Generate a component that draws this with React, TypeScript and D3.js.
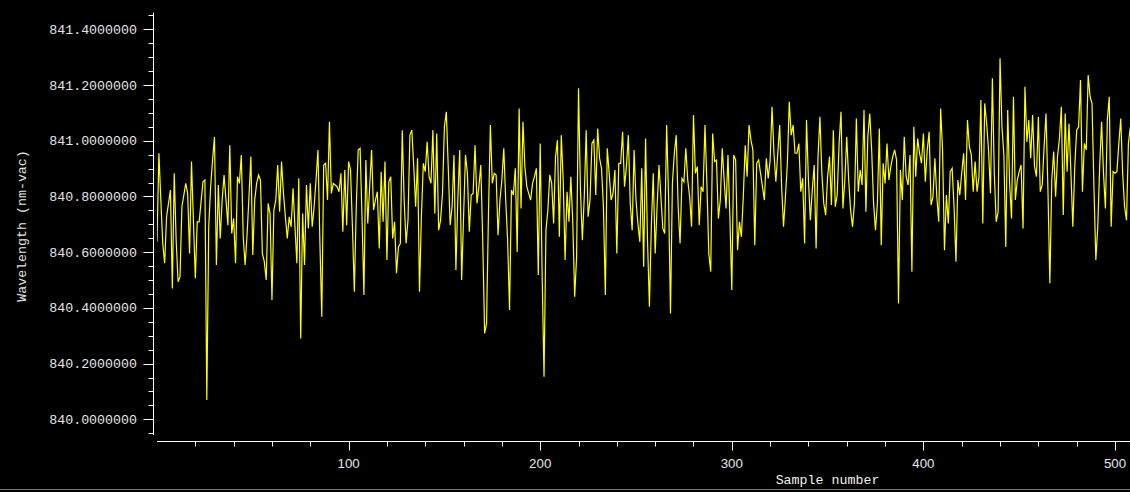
import React from "react";
import * as d3 from "d3";

const W = 1130;
const H = 492;

// Wavelength (nm-vac) per sample, samples numbered from 0
const seg1: number[] = [
  840.637, 840.955, 840.787, 840.631, 840.56, 840.727, 840.775, 840.823, 840.47, 840.883,
  840.643, 840.494, 840.512, 840.763, 840.805, 840.847, 840.811, 840.595, 840.925, 840.715,
  840.506, 840.709, 840.709, 840.781, 840.853, 840.859, 840.069, 840.691, 840.835, 840.931,
  841.014, 840.554, 840.841, 840.649, 840.787, 840.877, 840.787, 840.697, 840.984, 840.667,
  840.721, 840.56, 840.871, 840.847, 840.949, 840.655, 840.554, 840.661, 840.799, 840.943,
  840.59, 840.787, 840.847, 840.877, 840.859, 840.595, 840.566, 840.5, 840.775, 840.739,
  840.428, 840.751, 840.787, 840.913, 840.745, 840.925, 840.811, 840.727, 840.649, 840.727,
  840.691, 840.829, 840.691, 840.56, 840.865, 840.29, 840.739, 840.554, 840.841, 840.685,
  840.847, 840.691, 840.763, 840.859, 840.967, 840.643, 840.368, 840.913, 840.919, 840.787,
  841.068, 840.811, 840.847, 840.841, 840.835, 840.817, 840.883, 840.673, 840.895, 840.697,
  840.925, 840.895, 840.691, 840.458, 840.763, 840.967, 840.973, 840.727, 840.446, 840.931,
  840.703, 840.835, 840.967, 840.751, 840.787, 840.817, 840.613, 840.889, 840.709, 840.925,
  840.572, 840.853, 840.871, 840.649, 840.709, 840.524, 840.619,
];
const seg2: number[] = [
  840.631, 841.038, 840.787, 840.631, 840.715, 841.02, 841.038, 840.907, 840.763, 840.937,
  840.458, 840.727, 840.919, 840.889, 840.996, 840.871, 840.847, 841.038, 840.739, 841.026,
  840.679, 840.715, 840.811, 841.05, 841.104, 840.907, 840.697, 840.763, 840.949, 840.536,
  840.787, 840.967, 840.5, 840.727, 840.949, 840.883, 840.673, 840.805, 840.811, 840.984,
  840.775, 840.835, 840.913, 840.643, 840.308, 840.344, 840.739, 841.056, 840.847, 840.883,
  840.877, 840.661, 840.787, 840.859, 840.973, 840.787, 840.643, 840.392, 840.823, 840.805,
  840.901, 840.601, 841.116, 840.757, 841.068, 840.907, 840.835, 840.811, 840.787, 840.847,
  840.871, 840.901, 840.518, 840.99, 840.524, 840.153, 840.679, 840.751, 840.877, 840.847,
  840.703, 840.943, 841.002, 840.655, 841.02, 840.859, 840.572, 840.817, 840.709, 840.871,
  840.709, 840.44, 840.584, 841.188, 840.823, 840.643, 840.799, 841.038, 840.727, 840.787,
  840.99, 841.002, 840.805, 841.044, 840.937, 840.901, 840.763, 840.446, 840.973, 840.883,
  840.787, 840.811, 840.895, 840.595, 840.919, 840.919, 841.032, 840.835, 840.907, 841.02,
  840.775, 840.679, 840.967, 840.787, 840.703, 840.637, 840.901,
];
const seg3: number[] = [
  840.548, 841.008, 840.643, 840.404, 840.691, 840.883, 840.595, 840.763, 840.913, 840.799,
  840.685, 840.667, 841.056, 840.799, 840.38, 840.847, 840.955, 841.02, 840.763, 840.631,
  840.865, 840.853, 840.973, 840.859, 840.799, 840.691, 841.092, 840.883, 840.907, 840.697,
  840.835, 840.817, 841.056, 840.847, 840.595, 840.53, 841.026, 840.925, 840.931, 840.721,
  840.787, 840.973, 840.859, 840.757, 840.949, 840.727, 840.464, 840.949, 840.931, 840.607,
  840.709, 840.655, 840.799, 840.984, 840.871, 841.056, 841.002, 840.967, 840.625, 840.919,
  840.931, 840.883, 840.835, 840.787, 840.937, 840.865, 840.931, 841.122, 840.955, 840.853,
  840.955, 841.056, 840.835, 840.691, 840.799, 840.919, 841.14, 841.02, 841.056, 840.955,
  840.955, 840.99, 840.817, 840.865, 840.631, 841.074, 840.859, 840.715, 840.823, 840.913,
  840.613, 840.943, 841.086, 840.883, 840.775, 840.733, 840.871, 840.943, 840.769, 841.038,
  840.763, 840.805, 840.99, 841.104, 840.757, 840.859, 841.014, 840.859, 840.751, 840.691,
  840.775, 841.08, 840.817, 840.895, 840.841, 841.11, 840.745, 841.014, 841.098, 840.967,
  840.775, 840.679, 840.775, 841.044, 840.625, 840.919,
];
const seg4: number[] = [
  840.847, 840.99, 840.859, 840.907, 840.943, 840.967, 840.931, 840.416, 840.895, 840.787,
  841.014, 840.871, 840.841, 840.949, 840.53, 841.05, 840.871, 841.008, 840.955, 840.919,
  841.026, 840.853, 840.967, 841.032, 840.769, 840.799, 840.937, 840.799, 840.709, 841.116,
  840.967, 840.607, 840.805, 840.703, 840.889, 840.901, 840.763, 840.566, 840.859, 840.805,
  840.883, 840.955, 840.787, 841.074, 840.979, 840.949, 840.817, 840.925, 840.817, 840.871,
  841.146, 840.703, 841.134, 841.062, 840.967, 840.811, 841.224, 840.883, 840.709, 840.745,
  841.296, 841.05, 840.949, 840.619, 841.11, 840.847, 840.721, 841.158, 840.787, 840.859,
  840.889, 840.913, 840.685, 841.194, 840.996, 841.074, 840.937, 841.092, 840.907, 840.871,
  841.086, 840.817, 840.841, 840.979, 841.098, 840.823, 840.488, 840.859, 840.961, 840.799,
  840.943, 841.008, 841.122, 840.733, 841.098, 840.889, 841.062, 840.883, 840.691, 840.907,
  841.038, 841.05, 841.218, 840.817, 840.99, 840.967, 841.236, 841.158, 841.134, 840.835,
  840.572, 840.691, 840.907, 841.068, 840.883, 840.757, 841.074, 841.158, 840.691, 840.889,
  840.883, 840.889, 840.99, 841.08, 840.883, 840.763, 840.715, 840.99, 841.05,
];
const wavelengths: number[] = [...seg1, ...seg2, ...seg3, ...seg4];

const xMajorTicks = [100, 200, 300, 400, 500];
const yMajorTicks = [840.0, 840.2, 840.4, 840.6, 840.8, 841.0, 841.2, 841.4];

const xLabel = "Sample number";
const yLabel = "Wavelength (nm-vac)";

export default function App() {
  const x = d3.scaleLinear().domain([0, 508]).range([157, 157 + 508 * 1.916]);
  const y = d3.scaleLinear().domain([840.0, 841.4]).range([419.3, 29.3]);

  const line = d3
    .line<number>()
    .x((_, i) => x(i))
    .y((d) => y(d));

  const xMinor = d3.range(20, 510, 20).filter((v) => v % 100 !== 0);
  const yMinor = d3.range(0, 31).map((k) => 839.95 + k * 0.05).filter(
    (v) => Math.abs(Math.round(v * 5) - v * 5) > 1e-6
  );

  const axisY0 = 153.5;
  const axisX0 = 441.5;

  return (
    <svg
      width={W}
      height={H}
      style={{ position: "absolute", left: 0, top: 0, display: "block" }}
    >
      <rect x={0} y={0} width={W} height={H} fill="#000" />
      <defs>
        <clipPath id="plotclip">
          <rect x={157} y={0} width={W - 157} height={441} />
        </clipPath>
      </defs>

      {/* Y axis */}
      <line x1={axisY0} x2={axisY0} y1={12.7} y2={435} stroke="#fff" strokeWidth={1} />
      {yMajorTicks.map((t) => (
        <g key={"ym" + t}>
          <line
            x1={axisY0 - 10}
            x2={axisY0}
            y1={Math.round(y(t)) + 0.5}
            y2={Math.round(y(t)) + 0.5}
            stroke="#fff"
          />
          <text
            x={137}
            y={y(t) + 4.5}
            textAnchor="end"
            fill="#e6e6e6"
            fontFamily="'Liberation Mono', 'DejaVu Sans Mono', monospace"
            fontSize={13.3}
          >
            {t.toFixed(7)}
          </text>
        </g>
      ))}
      {yMinor.map((t) => (
        <line
          key={"yn" + t}
          x1={axisY0 - 5}
          x2={axisY0}
          y1={Math.round(y(t)) + 0.5}
          y2={Math.round(y(t)) + 0.5}
          stroke="#fff"
        />
      ))}
      <text
        transform="translate(26,226) rotate(-90)"
        textAnchor="middle"
        fill="#e6e6e6"
        fontFamily="'Liberation Mono', 'DejaVu Sans Mono', monospace"
        fontSize={13.3}
      >
        {yLabel}
      </text>

      {/* X axis */}
      <line x1={157} x2={W} y1={axisX0} y2={axisX0} stroke="#fff" strokeWidth={1} />
      {xMajorTicks.map((t) => (
        <g key={"xm" + t}>
          <line
            x1={Math.round(x(t)) + 0.5}
            x2={Math.round(x(t)) + 0.5}
            y1={axisX0}
            y2={axisX0 + 9}
            stroke="#fff"
          />
          <text
            x={x(t)}
            y={467.5}
            textAnchor="middle"
            fill="#e6e6e6"
            fontFamily="'Liberation Sans', Arial, sans-serif"
            fontSize={13.3}
          >
            {t}
          </text>
        </g>
      ))}
      {xMinor.map((t) => (
        <line
          key={"xn" + t}
          x1={Math.round(x(t)) + 0.5}
          x2={Math.round(x(t)) + 0.5}
          y1={axisX0}
          y2={axisX0 + 5}
          stroke="#fff"
        />
      ))}
      <text
        x={827.5}
        y={483.5}
        textAnchor="middle"
        fill="#f0f0f0"
        fontFamily="'Liberation Mono', 'DejaVu Sans Mono', monospace"
        fontSize={13.3}
      >
        {xLabel}
      </text>

      {/* data line */}
      <path
        d={line(wavelengths) || ""}
        fill="none"
        stroke="#ffff00"
        strokeWidth={1.2}
        strokeLinejoin="miter"
        clipPath="url(#plotclip)"
      />

      {/* bottom frame line */}
      <line x1={0} x2={W} y1={489.5} y2={489.5} stroke="#7a7a7a" strokeWidth={1} />
    </svg>
  );
}
